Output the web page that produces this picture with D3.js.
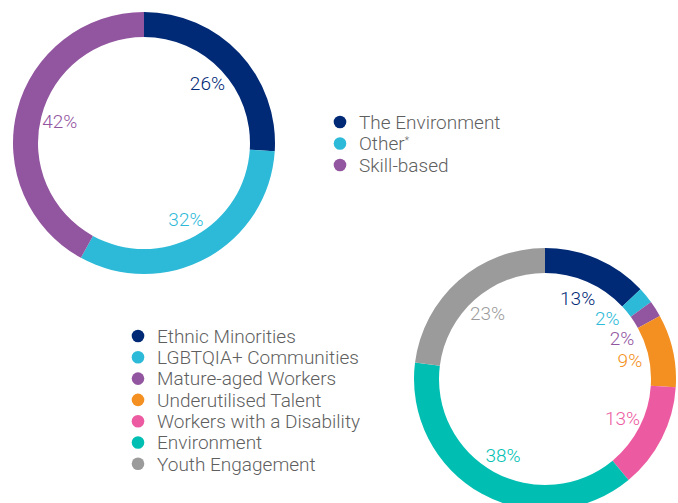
<!DOCTYPE html>
<html>
<head>
<meta charset="utf-8">
<script src="https://cdn.jsdelivr.net/npm/d3@7"></script>
<style>
  html, body { margin: 0; padding: 0; background: #fff; }
  svg { display: block; font-family: Roboto, "Noto Sans", sans-serif; }
</style>
</head>
<body>
<svg id="chart" width="678" height="503"></svg>
<script>
// Program type split
const typeCategories = ["The Environment", "Other", "Skill-based"];
const typeValues = [26, 32, 42];
const typeColors = ["#002976", "#2dbad8", "#92559f"];

// Focus area split
const focusCategories = [
  "Ethnic Minorities",
  "LGBTQIA+ Communities",
  "Mature-aged Workers",
  "Underutilised Talent",
  "Workers with a Disability",
  "Environment",
  "Youth Engagement"
];
const focusValues = [13, 2, 2, 9, 13, 38, 23];
const focusColors = ["#002976", "#2dbad8", "#92559f", "#f39021", "#ec5ba1", "#00bfb2", "#9b9b9b"];

const svg = d3.select("#chart");
const LABEL_R = 87;
const MIN_GAP = 20;

function donut(cx, cy, categories, values, colors) {
  const data = categories.map((c, i) => ({ name: c, value: values[i], color: colors[i] }));
  const pie = d3.pie().value(d => d.value).sort(null);
  const arc = d3.arc().innerRadius(106).outerRadius(131);
  const labelArc = d3.arc().innerRadius(LABEL_R).outerRadius(LABEL_R);
  const g = svg.append("g").attr("transform", `translate(${cx},${cy})`);
  const arcs = pie(data);
  g.selectAll("path").data(arcs).join("path")
    .attr("d", arc)
    .attr("fill", d => d.data.color);

  // label positions: start at the arc centroid, then spread crowded ones apart
  const pts = arcs.map(d => {
    const [x, y] = labelArc.centroid(d);
    return { d, x, y, side: x >= 0 ? 1 : -1 };
  });
  for (let iter = 0; iter < 30; iter++) {
    [1, -1].forEach(side => {
      const s = pts.filter(p => p.side === side).sort((a, b) => a.y - b.y);
      for (let i = 1; i < s.length; i++) {
        const gap = s[i].y - s[i - 1].y;
        if (gap < MIN_GAP) {
          const push = (MIN_GAP - gap) / 2;
          s[i].y += push;
          s[i - 1].y -= push;
        }
      }
    });
  }
  pts.forEach(p => {
    const yy = Math.max(-LABEL_R, Math.min(LABEL_R, p.y));
    p.x = p.side * Math.sqrt(LABEL_R * LABEL_R - yy * yy);
  });

  g.selectAll("text").data(pts).join("text")
    .attr("x", p => p.x)
    .attr("y", p => p.y)
    .attr("text-anchor", "middle")
    .attr("dy", "0.35em")
    .attr("font-size", 19)
    .attr("font-weight", 300)
    .attr("fill", p => p.d.data.color)
    .text(p => p.d.data.value + "%");
}

function legend(x, y, categories, colors, step, marks) {
  const g = svg.append("g").attr("transform", `translate(${x},${y})`);
  const items = g.selectAll("g").data(categories).join("g")
    .attr("transform", (d, i) => `translate(0,${i * step})`);
  items.append("circle").attr("r", 6.3).attr("fill", (d, i) => colors[i]);
  const t = items.append("text")
    .attr("x", 19)
    .attr("dy", "0.36em")
    .attr("font-size", 19)
    .attr("font-weight", 300)
    .attr("fill", "#5f5f5f");
  t.append("tspan").text(d => d);
  t.append("tspan")
    .attr("font-size", 10)
    .attr("dy", "-0.6em")
    .text((d, i) => (marks && marks[i]) || "");
}

donut(144, 143, typeCategories, typeValues, typeColors);
donut(545, 379, focusCategories, focusValues, focusColors);

legend(340, 122, typeCategories, typeColors, 21.5, ["", "*", ""]);
legend(138, 336, focusCategories, focusColors, 21.3);
</script>
</body>
</html>
